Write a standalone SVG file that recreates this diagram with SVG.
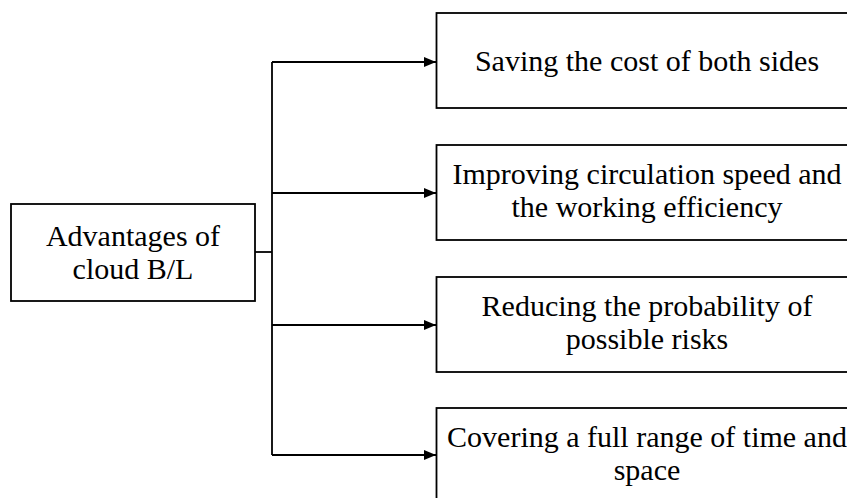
<svg xmlns="http://www.w3.org/2000/svg" width="847" height="498" viewBox="0 0 847 498">
<defs>
<style>
.box{fill:#fff;stroke:#000;stroke-width:1.8}
.t{font-family:"Liberation Serif","Times New Roman",serif;font-size:30px;fill:#000;text-anchor:middle}
.c{fill:none;stroke:#000;stroke-width:1.8}
</style>
<marker id="arr" markerWidth="12" markerHeight="10" refX="12" refY="5" orient="auto" markerUnits="userSpaceOnUse">
<path d="M0,0 L12,5 L0,10 Z" fill="#000"/>
</marker>
</defs>
<rect width="847" height="498" fill="#fff"/>
<g id="connectors">
<path class="c" d="M255,252 H272"/>
<path class="c" d="M272,62 V455"/>
<path class="c" d="M272,62 H436" marker-end="url(#arr)"/>
<path class="c" d="M272,193 H436" marker-end="url(#arr)"/>
<path class="c" d="M272,325 H436" marker-end="url(#arr)"/>
<path class="c" d="M272,455 H436" marker-end="url(#arr)"/>
</g>
<g id="root">
<rect class="box" x="11" y="204" width="244" height="97"/>
<text class="t" x="133" y="246">Advantages of</text>
<text class="t" x="133" y="279">cloud B/L</text>
</g>
<g id="n1">
<rect class="box" x="436.5" y="13" width="422" height="95"/>
<text class="t" x="647" y="71">Saving the cost of both sides</text>
</g>
<g id="n2">
<rect class="box" x="436.5" y="145" width="422" height="95"/>
<text class="t" x="647" y="184">Improving circulation speed and</text>
<text class="t" x="647" y="217">the working efficiency</text>
</g>
<g id="n3">
<rect class="box" x="436.5" y="277" width="422" height="95"/>
<text class="t" x="647" y="316">Reducing the probability of</text>
<text class="t" x="647" y="349">possible risks</text>
</g>
<g id="n4">
<rect class="box" x="436.5" y="408" width="422" height="95"/>
<text class="t" x="647" y="447">Covering a full range of time and</text>
<text class="t" x="647" y="480">space</text>
</g>
</svg>
